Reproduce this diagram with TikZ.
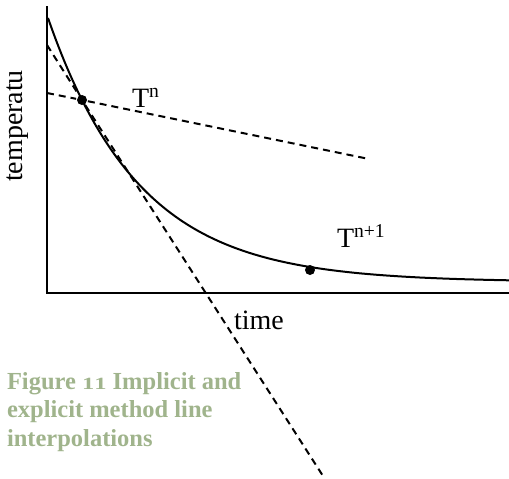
\documentclass[tikz,border=0pt]{standalone}
\usepackage{fontspec}
\usepackage{graphicx}
\newfontfamily\plotfont{Liberation Serif}
\definecolor{capgreen}{RGB}{160,180,140}
\newcommand{\smallone}{\scalebox{1}[0.7]{1}}
\usetikzlibrary{positioning}

\begin{document}
\begin{tikzpicture}[
    x=1pt, y=-1pt,
    line width=2pt,
    axis/.style={line width=2.2pt},
    guess/.style={dashed, dash pattern=on 7pt off 5pt},
    dot/.style={circle, fill, inner sep=0pt, minimum size=10pt},
    lab/.style={font=\plotfont\fontsize{28}{32}\selectfont, inner sep=0pt},
    caption/.style={
        font=\plotfont\bfseries\fontsize{24.5}{28.5}\selectfont,
        text=capgreen,
        align=left,
        inner sep=0pt
    }
]
\useasboundingbox (0,0) rectangle (509,479);

% axes
\coordinate (top) at (47,6);
\coordinate (origin) at (47,293);
\coordinate (right) at (509,293);
\draw[axis] (top) -- (origin) -- (right);

% temperature curve
\draw plot[domain=48:509, samples=120, smooth]
    (\x, {282-264*exp(-0.01094*(\x-48))});

\node[dot] (tn) at (82,100) {};
\node[dot] (tn1) at (310,270) {};

% explicit and implicit slopes
\coordinate (flatstart) at (47,93);
\coordinate (flatend) at (369,159);
\coordinate (steepstart) at (47,45);
\coordinate (steepend) at (323,476);
\draw[guess] (flatstart) -- (tn) -- (flatend);
\draw[guess] (steepstart) -- (tn) -- (steepend);

\node[lab, anchor=base west] (tnlab) at (131,107) {T\textsuperscript{n}};
\node[lab, anchor=base west] (tn1lab) at (336,247) {T\textsuperscript{n+1}};
\node[lab, rotate=90] (ylab) at (18,126) {temperatu};
\node[lab, anchor=base west] (xlab) at (233,329) {time};

\node[caption, anchor=north west] (cap) at (6,371) {Figure \smallone\smallone\ Implicit and\\explicit method line\\interpolations};

\end{tikzpicture}
\end{document}
